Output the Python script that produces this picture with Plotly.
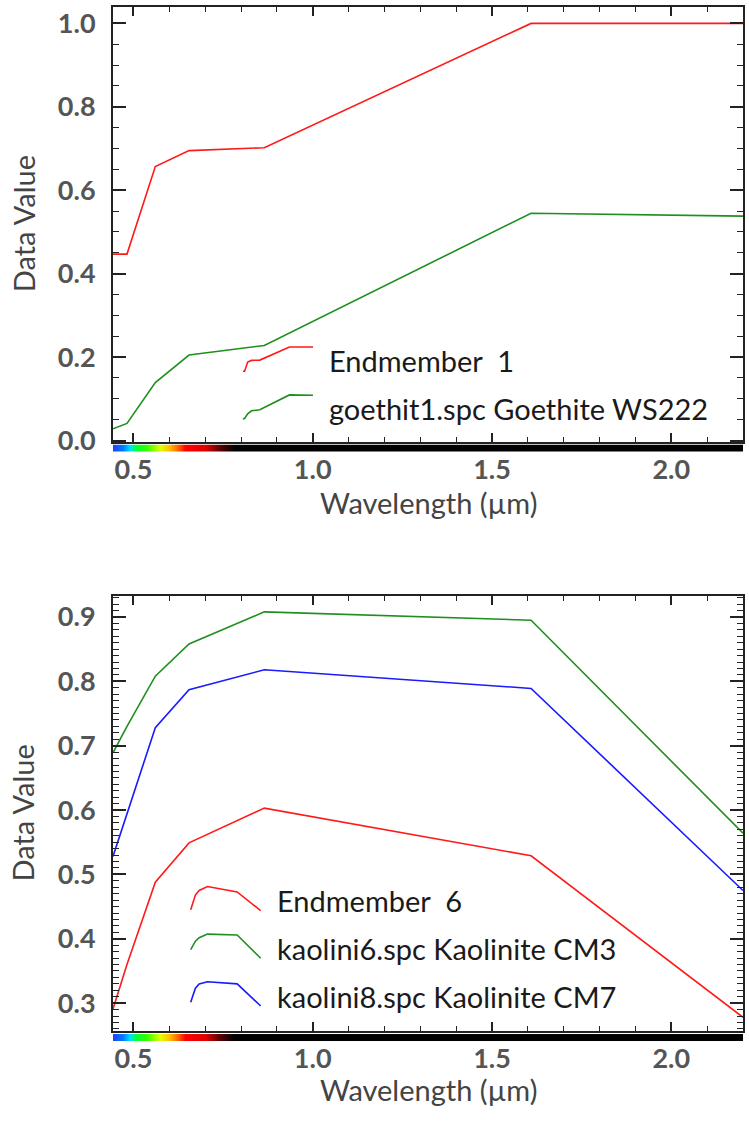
import plotly.graph_objects as go

# ---------------- data ----------------
wavelength = [0.443, 0.482, 0.561, 0.655, 0.865, 1.609, 2.200]
endmember1 = [0.447, 0.447, 0.657, 0.695, 0.702, 1.000, 1.000]
goethite_ws222 = [0.028, 0.041, 0.139, 0.205, 0.228, 0.545, 0.538]
endmember6 = [0.291, 0.360, 0.488, 0.549, 0.603, 0.529, 0.278]
kaolinite_cm3 = [0.689, 0.730, 0.808, 0.858, 0.908, 0.895, 0.564]
kaolinite_cm7 = [0.528, 0.595, 0.728, 0.787, 0.818, 0.789, 0.475]

top_names = ["Endmember  1", "goethit1.spc Goethite WS222"]
bottom_names = ["Endmember  6", "kaolini6.spc Kaolinite CM3", "kaolini8.spc Kaolinite CM7"]
x_title = "Wavelength (µm)"
y_title = "Data Value"

# spectrum colour bar stops (wavelength, colour)
bar_wl = [0.443, 0.472, 0.490, 0.505, 0.535, 0.575, 0.600, 0.625, 0.645, 0.700, 0.740, 0.780, 2.200]
bar_col = ["#2040ff", "#0080ff", "#00e0ff", "#00ff40", "#30ff00", "#e0ff00", "#ffc000",
           "#ff6000", "#ff0000", "#e00000", "#600000", "#000000", "#000000"]

RED, GREEN, BLUE = "#ff1a1a", "#1f8f1f", "#1a1aff"

# ---------------- layout helpers ----------------
W, H = 749, 1124
def fx(p):
    return p / W
def fy(p):
    return 1 - p / H

PL, PR = 113, 743
TOP = (6, 446.5)
TOP_BAR = (449.5, 457)
BOT = (603, 1044)
BOT_BAR = (1047, 1054.5)

XR = [wavelength[0], wavelength[-1]]

fig = go.Figure()

def add_line(x, y, color, xa, ya):
    fig.add_trace(go.Scatter(x=x, y=y, mode="lines", line=dict(color=color, width=1.6),
                             xaxis=xa, yaxis=ya, showlegend=False, hoverinfo="skip"))

# main curves
add_line(wavelength, endmember1, RED, "x", "y")
add_line(wavelength, goethite_ws222, GREEN, "x", "y")
add_line(wavelength, kaolinite_cm3, GREEN, "x2", "y2")
add_line(wavelength, kaolinite_cm7, BLUE, "x2", "y2")
add_line(wavelength, endmember6, RED, "x2", "y2")

# colour bars
span = bar_wl[-1] - bar_wl[0]
cscale = [[(w - bar_wl[0]) / span, c] for w, c in zip(bar_wl, bar_col)]
for xa, ya in (("x3", "y3"), ("x4", "y4")):
    fig.add_trace(go.Heatmap(x=bar_wl, y=[0, 1], z=[bar_wl, bar_wl], colorscale=cscale,
                             zmin=bar_wl[0], zmax=bar_wl[-1], zsmooth="best", showscale=False,
                             xaxis=xa, yaxis=ya, hoverinfo="skip"))

# legend mini-curves (drawn in a pixel-space overlay axis)
def mini(values, color, left, cy, w=70, h=24.5):
    lo, hi = min(values), max(values)
    xs = [left + (wl - wavelength[0]) / (wavelength[-1] - wavelength[0]) * w for wl in wavelength]
    ys = [cy + h / 2 - (v - lo) / (hi - lo) * h for v in values]
    add_line(xs, ys, color, "x5", "y5")

mini(endmember1, RED, 243, 363)
mini(goethite_ws222, GREEN, 243, 411.5)
mini(endmember6, RED, 190.7, 909.7)
mini(kaolinite_cm3, GREEN, 190.7, 958)
mini(kaolinite_cm7, BLUE, 190.7, 1006.3)

LEG_SIZE = 29
legfont = dict(family="Lato", size=LEG_SIZE, color="#1a1a1a")
annotations = []
for name, cy in zip(top_names, [362, 410.5]):
    annotations.append(dict(text=name, x=fx(327), y=fy(cy + 2.5), xref="paper", yref="paper",
                            xanchor="left", yanchor="middle", showarrow=False, font=legfont))
for name, cy in zip(bottom_names, [909.5, 958, 1006.5]):
    annotations.append(dict(text=name, x=fx(275), y=fy(cy + 2.5), xref="paper", yref="paper",
                            xanchor="left", yanchor="middle", showarrow=False, font=legfont))

titlefont = dict(family="Lato", size=29, color="#444")
for cy in (507, 1102):
    annotations.append(dict(text=x_title, x=fx((PL + PR) / 2), y=fy(cy + 1.5), xref="paper", yref="paper",
                            xanchor="center", yanchor="middle", showarrow=False, font=titlefont))
for cy in ((TOP[0] + TOP[1]) / 2, (BOT[0] + BOT[1]) / 2):
    annotations.append(dict(text=y_title, x=fx(23), y=fy(cy), xref="paper", yref="paper",
                            xanchor="center", yanchor="middle", textangle=-90, showarrow=False,
                            font=titlefont))

tickfont = dict(family="Lato", size=27, color="#555", weight="bold")

def xaxis(dom_y_anchor):
    return dict(domain=[fx(PL), fx(PR)], range=XR, anchor=dom_y_anchor,
                showline=True, linecolor="#222", linewidth=2, mirror="ticks",
                ticks="inside", ticklen=9, tickwidth=1.5, tickcolor="#222",
                tick0=0, dtick=0.5, tickformat=".1f",
                minor=dict(ticks="inside", ticklen=5, dtick=0.1, tickcolor="#222", tickwidth=1.2),
                showgrid=False, zeroline=False, tickfont=tickfont, ticklabelstandoff=3)

def yaxis(dom, rng, dtick, mdtick, anchor):
    return dict(domain=[fy(dom[1]), fy(dom[0])], range=rng, anchor=anchor,
                showline=True, linecolor="#222", linewidth=2, mirror="ticks",
                ticks="inside", ticklen=13, tickwidth=1.5, tickcolor="#222",
                tick0=0, dtick=dtick, tickformat=".1f",
                minor=dict(ticks="inside", ticklen=6, dtick=mdtick, tickcolor="#222", tickwidth=1.2),
                showgrid=False, zeroline=False, tickfont=tickfont, ticklabelstandoff=10)

hidden = dict(visible=False, showgrid=False, zeroline=False, fixedrange=True)

fig.update_layout(
    width=W, height=H, margin=dict(l=0, r=0, t=0, b=0),
    paper_bgcolor="white", plot_bgcolor="rgba(0,0,0,0)", showlegend=False,
    xaxis=xaxis("y"),
    yaxis=yaxis(TOP, [-0.0024, 1.0395], 0.2, 0.05, "x"),
    xaxis2=xaxis("y2"),
    yaxis2=yaxis(BOT, [0.2566, 0.9327], 0.1, 0.01, "x2"),
    xaxis3=dict(domain=[fx(PL), fx(PR)], range=XR, anchor="y3", **hidden),
    yaxis3=dict(domain=[fy(TOP_BAR[1]), fy(TOP_BAR[0])], range=[0, 1], anchor="x3", **hidden),
    xaxis4=dict(domain=[fx(PL), fx(PR)], range=XR, anchor="y4", **hidden),
    yaxis4=dict(domain=[fy(BOT_BAR[1]), fy(BOT_BAR[0])], range=[0, 1], anchor="x4", **hidden),
    xaxis5=dict(domain=[0, 1], range=[0, W], anchor="y5", **hidden),
    yaxis5=dict(domain=[0, 1], range=[H, 0], anchor="x5", **hidden),
    annotations=annotations,
)

fig.write_html("out.html")
